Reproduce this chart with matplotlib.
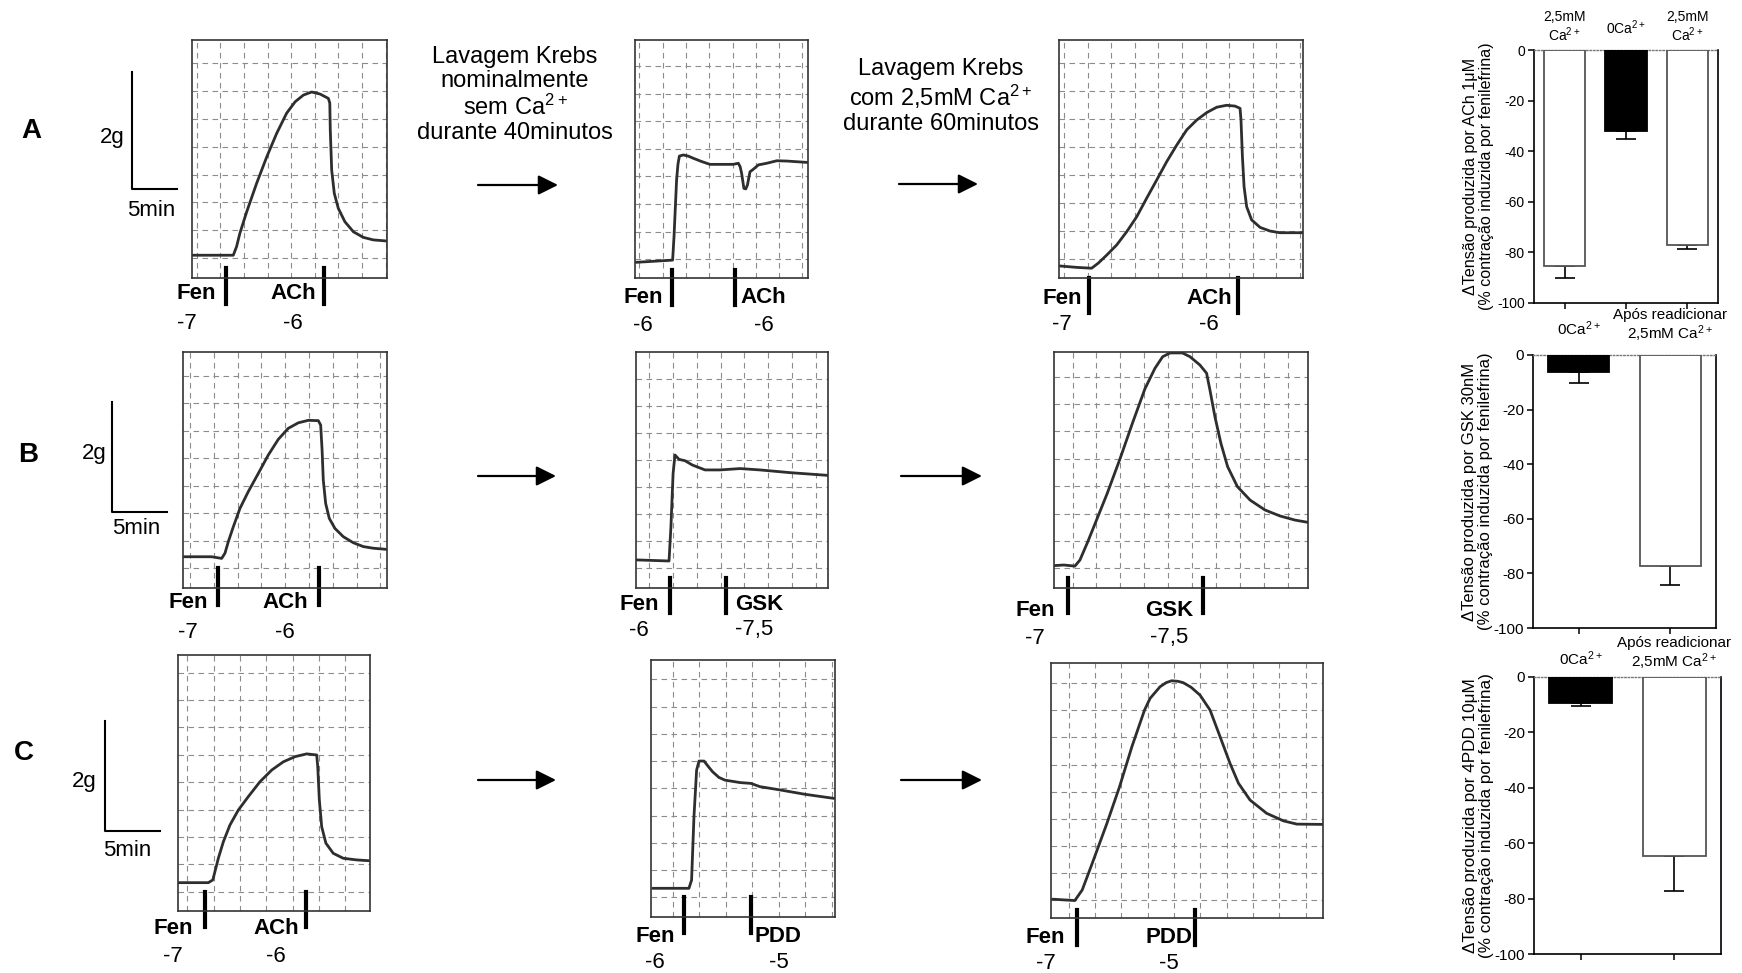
import math
import numpy as np
import matplotlib
matplotlib.use("Agg")
import matplotlib.pyplot as plt
from matplotlib.lines import Line2D
from matplotlib.patches import FancyArrowPatch
from matplotlib.transforms import blended_transform_factory

plt.rcParams["font.family"] = ["Liberation Sans", "DejaVu Sans"]
plt.rcParams["axes.unicode_minus"] = False

CA = r"Ca$\mathregular{^{2+}}$"

# ---------------- isometric tension traces (chart-paper divisions) ----------------
A1_t = [-0.17, 1.41, 1.55, 1.69, 1.83, 2.12, 2.54, 2.97, 3.39, 3.81, 4.17, 4.52, 4.87, 5.22, 5.58,
        5.64, 5.66, 5.72, 5.83, 6.00, 6.28, 6.64, 7.06, 7.48, 8.05]
A1_v = [0.11, 0.11, 0.11, 0.42, 0.90, 1.67, 2.69, 3.64, 4.48, 5.20, 5.61, 5.85, 5.96, 5.89, 5.73,
        5.56, 4.60, 3.16, 2.33, 1.79, 1.31, 0.95, 0.75, 0.66, 0.62]

A2_t = [-0.15, 1.43, 1.49, 1.60, 1.66, 1.72, 1.89, 2.10, 2.32, 2.65, 3.03, 4.03, 4.25, 4.33, 4.39,
        4.49, 4.57, 4.64, 4.75, 4.89, 5.11, 5.47, 5.90, 6.32, 7.21]
A2_v = [-0.11, -0.03, 0.82, 2.87, 3.45, 3.74, 3.78, 3.74, 3.66, 3.55, 3.44, 3.44, 3.48, 3.35, 3.12,
        2.57, 2.55, 2.69, 3.17, 3.26, 3.42, 3.48, 3.57, 3.56, 3.51]

A3_t = [-0.17, 0.54, 1.17, 1.45, 1.81, 2.23, 2.66, 3.08, 3.50, 3.93, 4.35, 4.78, 5.20, 5.62, 6.05,
        6.47, 6.89, 7.25, 7.46, 7.50, 7.56, 7.63, 7.74, 7.95, 8.31, 8.73, 9.15, 10.11]
A3_v = [-0.25, -0.30, -0.33, -0.15, 0.14, 0.50, 0.98, 1.51, 2.17, 2.83, 3.48, 4.08, 4.62, 4.97, 5.24,
        5.43, 5.50, 5.47, 5.39, 4.97, 3.66, 2.59, 1.87, 1.40, 1.13, 1.00, 0.94, 0.94]

B1_t = [-0.28, 0.91, 1.33, 1.47, 1.61, 1.82, 2.10, 2.45, 2.87, 3.29, 3.71, 4.13, 4.55, 4.97, 5.39,
        5.49, 5.55, 5.60, 5.70, 5.85, 6.09, 6.44, 6.86, 7.28, 7.70, 8.24]
B1_v = [0.42, 0.42, 0.36, 0.55, 0.97, 1.51, 2.18, 2.79, 3.45, 4.12, 4.69, 5.09, 5.29, 5.38, 5.37,
        5.21, 4.30, 3.21, 2.36, 1.82, 1.45, 1.15, 0.93, 0.79, 0.73, 0.69]

B2_t = [-0.55, 0.84, 0.92, 1.01, 1.09, 1.26, 1.51, 1.82, 2.35, 2.98, 3.82, 4.65, 5.91, 7.48]
B2_v = [0.31, 0.27, 1.54, 3.50, 4.18, 4.02, 3.97, 3.81, 3.63, 3.63, 3.68, 3.63, 3.53, 3.43]

B3_t = [-0.73, -0.36, 0.10, 0.31, 0.63, 1.00, 1.46, 1.99, 2.51, 3.03, 3.45, 3.77, 4.08, 4.60, 4.92,
        5.33, 5.61, 5.75, 5.96, 6.21, 6.49, 6.90, 7.43, 8.05, 8.68, 9.31, 9.83]
B3_v = [0.10, 0.12, 0.08, 0.30, 0.95, 1.75, 2.75, 4.00, 5.30, 6.55, 7.30, 7.72, 7.86, 7.86, 7.72,
        7.42, 7.12, 6.51, 5.53, 4.56, 3.71, 2.98, 2.49, 2.13, 1.91, 1.76, 1.68]

C1_t = [-0.33, 0.80, 0.97, 1.05, 1.18, 1.37, 1.62, 1.94, 2.32, 2.76, 3.21, 3.65, 4.10, 4.54, 4.92,
        4.96, 5.02, 5.11, 5.27, 5.55, 5.93, 6.44, 6.92]
C1_v = [0.33, 0.33, 0.43, 0.73, 1.22, 1.82, 2.43, 2.98, 3.47, 4.01, 4.44, 4.74, 4.93, 5.03, 4.99,
        4.56, 3.35, 2.37, 1.77, 1.40, 1.22, 1.16, 1.13]

C2_t = [-0.75, 0.62, 0.72, 0.81, 0.91, 1.00, 1.19, 1.35, 1.51, 1.75, 1.98, 2.55, 2.96, 3.30, 4.06,
        5.00, 6.09]
C2_v = [0.33, 0.33, 0.63, 2.96, 4.67, 5.00, 5.00, 4.80, 4.61, 4.40, 4.30, 4.21, 4.18, 4.06, 3.94,
        3.78, 3.63]

C3_t = [-0.62, 0.23, 0.51, 0.89, 1.45, 1.93, 2.40, 2.88, 3.09, 3.47, 3.70, 3.91, 4.15, 4.35, 4.65,
        4.99, 5.37, 5.75, 6.13, 6.45, 6.89, 7.52, 8.16, 8.67, 9.65]
C3_v = [0.03, -0.02, 0.37, 1.35, 2.83, 4.18, 5.66, 7.01, 7.44, 7.87, 8.02, 8.09, 8.07, 8.02, 7.85,
        7.56, 7.01, 6.03, 5.04, 4.31, 3.69, 3.20, 2.92, 2.80, 2.79]

# drug additions: (time, drug, log concentration, label side, label gap px, number shift px)
A1_events = [(1.24, "Fen", "-7", "left", 10, -9), (5.39, "ACh", "-6", "left", 8, 0)]
A2_events = [(1.40, "Fen", "-6", "left", 9, 0), (4.10, "ACh", "-6", "right", 6, 0)]
A3_events = [(1.06, "Fen", "-7", "left", 7, 0), (7.37, "ACh", "-6", "left", 6, 0)]
B1_events = [(1.18, "Fen", "-7", "left", 10, 0), (5.42, "ACh", "-6", "left", 11, 0)]
B2_events = [(0.88, "Fen", "-6", "left", 11, 0), (3.23, "GSK", "-7,5", "right", 9, -5)]
B3_events = [(-0.19, "Fen", "-7", "left", 13, 0), (5.46, "GSK", "-7,5", "left", 10, 0)]
C1_events = [(0.67, "Fen", "-7", "left", 12, 0), (4.51, "ACh", "-6", "left", 7, 0)]
C2_events = [(0.43, "Fen", "-6", "left", 9, 0), (2.96, "PDD", "-5", "right", 4, 0)]
C3_events = [(0.33, "Fen", "-7", "left", 12, 0), (4.80, "PDD", "-5", "left", 3, 0)]

# ---------------- summary bars ----------------
A_cats = ["2,5mM\n" + CA, "0" + CA, "2,5mM\n" + CA]
A_mean = [-85.4, -32.1, -76.9]
A_sem = [4.6, 2.9, 1.7]
A_fill = ["white", "black", "white"]

B_cats = ["0" + CA, "Após readicionar\n2,5mM " + CA]
B_mean = [-6.3, -77.2]
B_sem = [4.1, 7.2]
B_fill = ["black", "white"]

C_cats = ["0" + CA, "Após readicionar\n2,5mM " + CA]
C_mean = [-9.4, -64.7]
C_sem = [1.1, 12.5]
C_fill = ["black", "white"]

A_ylabel = "ΔTensão produzida por ACh 1μM\n(% contração induzida por fenilefrina)"
B_ylabel = "ΔTensão produzida por GSK 30nM\n(% contração induzida por fenilefrina)"
C_ylabel = "ΔTensão produzida por 4PDD 10μM\n(% contração induzida por fenilefrina)"

W, H = 1742, 973
fig = plt.figure(figsize=(W / 100, H / 100), dpi=100)
fig.patch.set_facecolor("white")


def fx(px):
    return px / W


def fy(py):
    return 1 - py / H


def trace_panel(box, origin, t, v, events, marks):
    left, top, right, bottom = box
    x0, dx, y0, dy = origin
    ax = fig.add_axes([fx(left), fy(bottom), (right - left) / W, (bottom - top) / H])
    ax.set_autoscale_on(False)
    xmin, xmax = (left - x0) / dx, (right - x0) / dx
    ymin, ymax = (y0 - bottom) / dy, (y0 - top) / dy
    ax.set_xlim(xmin, xmax)
    ax.set_ylim(ymin, ymax)
    ax.set_xticks(np.arange(math.ceil(xmin), math.floor(xmax) + 1))
    ax.set_yticks(np.arange(math.ceil(ymin), math.floor(ymax) + 1))
    ax.tick_params(length=0, labelbottom=False, labelleft=False)
    ax.grid(True, color="#8c8c8c", lw=0.8, linestyle=(0, (5, 4)))
    ax.set_axisbelow(True)
    for s in ax.spines.values():
        s.set_color("#333333")
        s.set_linewidth(1.2)
    ax.plot(t, v, color="#2e2e2e", lw=2.0, solid_joinstyle="round", solid_capstyle="round")

    above, below, lab_dy, num_dy = marks
    trans = blended_transform_factory(ax.transData, fig.transFigure)
    for time, name, conc, side, gap_px, num_shift in events:
        ax.add_artist(Line2D([time, time], [fy(bottom - above), fy(bottom + below)],
                             transform=trans, color="black", lw=3, clip_on=False))
        gap = gap_px / dx
        if side == "left":
            tx, ha = time - gap, "right"
        else:
            tx, ha = time + gap, "left"
        lab = ax.text(tx, fy(bottom + lab_dy), name, transform=trans, ha=ha, va="center",
                      fontsize=16, fontweight="bold", clip_on=False)
        ax.annotate(conc, xy=(0.5, 0.5), xycoords=lab,
                    xytext=(num_shift * 0.72, -(num_dy - lab_dy) * 0.72),
                    textcoords="offset points", ha="center", va="center", fontsize=16)
    return ax


def bar_panel(box, cats, means, sems, fills, ylabel, label_x, fs_tick, fs_ylab, fs_cat, cat_off):
    left, top, right, bottom = box
    ax = fig.add_axes([fx(left), fy(bottom), (right - left) / W, (bottom - top) / H])
    x = np.arange(len(means))
    edges = ["black" if f == "black" else "#555555" for f in fills]
    ax.bar(x, means, width=0.67, color=fills, edgecolor=edges, linewidth=1.3, zorder=3)
    ax.errorbar(x, means, yerr=[sems, np.zeros(len(sems))], fmt="none", ecolor="black",
                elinewidth=1.2, capsize=7.5, capthick=1.2, zorder=2)
    ax.set_xlim(-0.5, len(means) - 0.5)
    ax.set_ylim(-100, 0)
    ax.set_yticks(np.arange(-100, 1, 20))
    ax.set_xticks(x)
    ax.set_xticklabels([])
    ax.tick_params(direction="out", length=4.5, width=1.1, labelsize=fs_tick, pad=2)
    for name in ("left", "bottom", "right"):
        ax.spines[name].set_color("black")
        ax.spines[name].set_linewidth(1.2)
    ax.spines["top"].set_color("#777777")
    ax.spines["top"].set_linestyle((0, (1, 1.5)))
    ax.spines["top"].set_linewidth(1.0)
    ax.set_ylabel(ylabel, fontsize=fs_ylab, linespacing=1.1)
    ax.yaxis.set_label_coords(label_x, 0.5)
    for i, (c, off) in enumerate(zip(cats, cat_off)):
        ax.annotate(c, xy=(i, 0), xycoords="data", xytext=(0, off * 0.72),
                    textcoords="offset points", ha="center", va="center",
                    fontsize=fs_cat, linespacing=1.05, annotation_clip=False)
    return ax


# row A
trace_panel((192, 40, 387, 278), (196.7, 23.6, 258.3, 27.9), A1_t, A1_v, A1_events, (10, 26, 15, 45))
trace_panel((635, 40, 808, 278), (639.3, 23.3, 259.3, 27.6), A2_t, A2_v, A2_events, (8, 27, 19, 47))
trace_panel((1059, 40, 1303, 278), (1064, 23.6, 259.0, 27.95), A3_t, A3_v, A3_events, (0, 35, 20, 47))
# row B
trace_panel((183, 352, 387, 588), (190, 23.8, 568.3, 27.5), B1_t, B1_v, B1_events, (20, 17, 15, 44))
trace_panel((636, 352, 827.5, 588), (649, 23.85, 568.3, 27.1), B2_t, B2_v, B2_events, (10, 25, 17, 42))
trace_panel((1054, 352, 1307.5, 588), (1072.5, 23.9, 568.3, 27.4), B3_t, B3_v, B3_events, (10, 25, 22, 50))
# row C
trace_panel((178, 655, 370, 911), (187.3, 26.3, 891.7, 27.4), C1_t, C1_v, C1_events, (19, 16, 18, 46))
trace_panel((651, 660, 835, 917), (672.5, 26.5, 897.3, 27.25), C2_t, C2_v, C2_events, (20, 16, 20, 46))
trace_panel((1051.4, 663, 1322.7, 918.3), (1068.8, 26.3, 900.0, 27.1), C3_t, C3_v, C3_events, (8, 27, 19, 45))

# summary bar charts
bar_panel((1534, 50, 1718, 303), A_cats, A_mean, A_sem, A_fill, A_ylabel, -0.217,
          10, 11.6, 10, [23, 22, 23])
bar_panel((1533, 355, 1716, 628), B_cats, B_mean, B_sem, B_fill, B_ylabel, -0.219,
          11, 12, 11, [26, 29])
bar_panel((1534, 677, 1721, 954), C_cats, C_mean, C_sem, C_fill, C_ylabel, -0.214,
          11, 12.3, 11, [18, 23])

# panel letters
for letter, (px, py) in zip("ABC", [(31, 131), (28, 455), (24, 753)]):
    fig.text(fx(px), fy(py), letter, fontsize=20, fontweight="bold", ha="center", va="center")

# calibration bars (2 g / 5 min)
for (bx, btop, bbot, bright), (gx, gy), (mx, my) in [
        ((132, 72, 189, 177), (125, 137), (127, 210)),
        ((112, 402, 512, 167), (107, 453), (112, 528)),
        ((105, 721, 831, 160), (97, 782), (103, 850))]:
    fig.add_artist(Line2D([fx(bx), fx(bx), fx(bright)], [fy(btop), fy(bbot), fy(bbot)],
                          transform=fig.transFigure, color="black", lw=1.5))
    fig.text(fx(gx), fy(gy), "2g", fontsize=16, ha="right", va="center")
    fig.text(fx(mx), fy(my), "5min", fontsize=16, ha="left", va="center")

# protocol annotations
fig.text(fx(515), fy(46), "Lavagem Krebs\nnominalmente\nsem " + CA + "\ndurante 40minutos",
         fontsize=17, ha="center", va="top", linespacing=1.12)
fig.text(fx(941), fy(58), "Lavagem Krebs\ncom 2,5mM " + CA + "\ndurante 60minutos",
         fontsize=17, ha="center", va="top", linespacing=1.12)

for (xa, xb, ya) in [(478, 558, 185), (899, 978, 184), (478, 556, 476), (901, 982, 476),
                     (478, 556, 780), (901, 982, 780)]:
    fig.add_artist(FancyArrowPatch((fx(xa), fy(ya)), (fx(xb), fy(ya)), transform=fig.transFigure,
                                   arrowstyle="-|>,head_length=0.8,head_width=0.4",
                                   mutation_scale=15, lw=1.6, color="black",
                                   shrinkA=0, shrinkB=0))

fig.savefig("out.png", dpi=100, facecolor="white")
